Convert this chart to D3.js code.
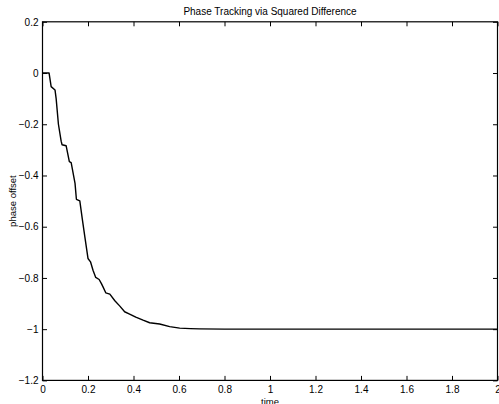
<!DOCTYPE html>
<html><head><meta charset="utf-8">
<script src="https://cdn.jsdelivr.net/npm/d3@7"></script>
<style>
html,body{margin:0;padding:0;background:#fff;}
svg{display:block;}
text{font-family:"Liberation Sans",Arial,Helvetica,sans-serif;fill:#000;}
</style></head>
<body>
<svg id="c" width="499" height="404"></svg>
<script>
const timeVals = [0, 0.029, 0.034, 0.038, 0.055, 0.06, 0.07, 0.082, 0.086, 0.104, 0.118, 0.126, 0.143, 0.149, 0.164, 0.175, 0.186, 0.2, 0.211, 0.222, 0.234, 0.249, 0.259, 0.266, 0.278, 0.296, 0.318, 0.34, 0.361, 0.383, 0.41, 0.442, 0.471, 0.515, 0.559, 0.603, 0.65, 0.69, 0.8, 1.0, 1.2, 1.4, 1.6, 1.8, 2.0];
const phaseVals = [0, 0, -0.03, -0.053, -0.066, -0.1, -0.2, -0.266, -0.28, -0.284, -0.346, -0.35, -0.431, -0.493, -0.499, -0.57, -0.639, -0.724, -0.737, -0.77, -0.798, -0.806, -0.822, -0.835, -0.858, -0.863, -0.889, -0.91, -0.932, -0.941, -0.953, -0.965, -0.975, -0.98, -0.99, -0.996, -0.998, -0.999, -1, -1, -1, -1, -1, -1, -1];
const xTicks = [0, 0.2, 0.4, 0.6, 0.8, 1, 1.2, 1.4, 1.6, 1.8, 2];
const yTicks = [-1.2, -1, -0.8, -0.6, -0.4, -0.2, 0, 0.2];
const titleText = "Phase Tracking via Squared Difference";
const xLabel = "time";
const yLabel = "phase offset";

const L = 42.5, R = 497.5, T = 21.8, B = 380.4;
const svg = d3.select("#c");
const x = d3.scaleLinear().domain([0, 2]).range([L, R]);
const y = d3.scaleLinear().domain([-1.2, 0.2]).range([B, T]);
const fmt = d => d3.format("")(d).replace("-", "\u2212");
const fs = "10px";

// box
svg.append("rect").attr("x", L).attr("y", T).attr("width", R - L).attr("height", B - T)
  .attr("fill", "none").attr("stroke", "#000").attr("stroke-width", 1.2);

const tl = 4.5;
const axB = d3.axisBottom(x).tickValues(xTicks).tickSize(-tl).tickPadding(5.5).tickFormat(fmt);
const axT = d3.axisTop(x).tickValues(xTicks).tickSize(-tl).tickFormat("");
const axL = d3.axisLeft(y).tickValues(yTicks).tickSize(-tl).tickPadding(4).tickFormat(fmt);
const axR = d3.axisRight(y).tickValues(yTicks).tickSize(-tl).tickFormat("");

function style(g){ g.select(".domain").remove(); g.selectAll("line").attr("stroke","#000"); g.selectAll("text").style("font-size", fs).attr("font-family","Liberation Sans, Arial, sans-serif"); }
svg.append("g").attr("transform", `translate(0,${B})`).call(axB).call(style);
svg.append("g").attr("transform", `translate(0,${T})`).call(axT).call(style);
svg.append("g").attr("transform", `translate(${L},0)`).call(axL).call(style);
svg.append("g").attr("transform", `translate(${R},0)`).call(axR).call(style);

const data = timeVals.map((t, i) => [t, phaseVals[i]]);
svg.append("path").datum(data)
  .attr("d", d3.line().x(d => x(d[0])).y(d => y(d[1])))
  .attr("fill", "none").attr("stroke", "#000").attr("stroke-width", 1.4).attr("stroke-linejoin", "round");

svg.append("text").attr("x", (L + R) / 2).attr("y", 15).attr("text-anchor", "middle").style("font-size", "10px").text(titleText);
svg.append("text").attr("x", (L + R) / 2).attr("y", 405).attr("text-anchor", "middle").style("font-size", "9.5px").text(xLabel);
svg.append("text").attr("transform", `translate(16,${(T + B) / 2}) rotate(-90)`).attr("text-anchor", "middle").style("font-size", "9.5px").text(yLabel);
</script>
</body></html>
